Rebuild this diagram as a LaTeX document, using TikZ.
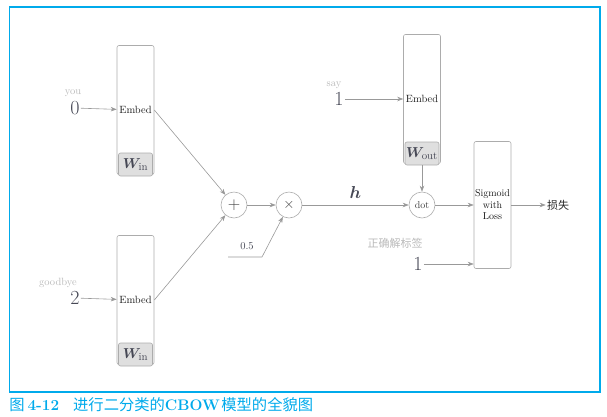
\documentclass[tikz,border=0pt]{standalone}
\usepackage{fontspec}
\usepackage{bm}
\usetikzlibrary{arrows.meta}
\newfontfamily\cjk{Noto Sans CJK SC}
\definecolor{bleu}{RGB}{0,170,235}
\definecolor{encre}{RGB}{70,72,85}

\begin{document}
\begin{tikzpicture}[x=1pt, y=-1pt, >={Stealth[length=6pt, width=4.5pt]}, line width=0.6pt,
    boite/.style={draw=gray!65, rounded corners=2pt, minimum width=37pt, minimum height=129pt, inner sep=1pt, align=center, text=black!90, font=\fontsize{10.5}{11.5}\selectfont},
    poids/.style={draw=gray!65, fill=gray!25, rounded corners=2pt, minimum width=34pt, minimum height=23pt, inner sep=0pt, text=encre, font=\fontsize{15.5}{15.5}\selectfont},
    rond/.style={circle, draw=gray!65, minimum size=26pt, inner sep=0pt, text=black!75, font=\fontsize{10}{10}\selectfont},
    fleche/.style={->, gray!80},
    chiffre/.style={inner sep=1pt, text=encre, font=\fontsize{20}{20}\selectfont},
    mot/.style={inner sep=0pt, text=gray!55, font=\fontsize{10.5}{10.5}\selectfont}]
    % Cadre et légende
    \useasboundingbox (0,0) rectangle (607,416);
    \draw[bleu, line width=1.6pt] (9.5,392) -- (9.5,7) -- (600,7) -- (600,392) -- cycle;
    \node[anchor=west, inner sep=0pt, text=bleu, font=\fontsize{15.3}{15.3}\selectfont] (legende) at (9,405)
        {{\cjk 图}\hspace{3pt}\textbf{4-12}\hspace{14pt}{\cjk 进行二分类的}\textbf{CBOW}\hspace{1.5pt}{\cjk 模型的全貌图}};

    % Couches Embed d'entrée
    \node[boite] (emb1) at (135.5,110) {Embed};
    \node[poids, anchor=south] (win1) at ([yshift=-1.5pt]emb1.south) {$\bm{W}_{\mathrm{in}}$};
    \node[boite] (emb2) at (135.5,300) {Embed};
    \node[poids, anchor=south] (win2) at ([yshift=-1.5pt]emb2.south) {$\bm{W}_{\mathrm{in}}$};

    % Mots du contexte
    \node[chiffre] (x0) at (75,108) {0};
    \node[mot] (you) at (73,93) {you};
    \node[chiffre] (x2) at (75,298) {2};
    \node[mot] (goodbye) at (58,283) {goodbye};
    \draw[fleche] (x0) -- (emb1);
    \draw[fleche] (x2) -- (emb2);

    % Somme puis moyenne
    \node[rond] (plus) at (234,205) {\fontsize{16}{16}\selectfont$+$};
    \node[rond] (fois) at (289,205) {\fontsize{15}{15}\selectfont$\times$};
    \draw[fleche] (emb1.east) -- (plus);
    \draw[fleche] (emb2.east) -- (plus);
    \draw[fleche] (plus) -- (fois);
    \coordinate (c05) at (228,257);
    \coordinate (coin) at (262,257);
    \node[inner sep=0pt, text=encre, font=\fontsize{10.5}{10.5}\selectfont] (demi) at (247,246) {0.5};
    \draw[fleche] (c05) -- (coin) -- (fois);

    % Couche Embed de sortie
    \node[boite] (emb3) at (422,99) {Embed};
    \node[poids, anchor=south] (wout) at ([yshift=-1.5pt]emb3.south) {$\bm{W}_{\mathrm{out}}$};
    \node[chiffre] (x1) at (339,99) {1};
    \node[mot] (say) at (334,85) {say};
    \draw[fleche] (x1) -- (emb3);

    % Produit scalaire
    \node[rond] (dot) at (422,205) {dot};
    \draw[fleche] (fois) -- (dot) node[midway, above=3pt, text=encre, font=\fontsize{19}{19}\selectfont] {$\bm{h}$};
    \draw[fleche] (wout) -- (dot);

    % Sigmoid with Loss
    \node[boite, minimum height=127pt, font=\fontsize{10}{11.5}\selectfont] (sig) at (492.5,205) {Sigmoid\\with\\Loss};
    \node[chiffre] (etiq) at (418,264) {1};
    \node[mot, font=\fontsize{11}{11}\selectfont\cjk] (bonne) at (395,243) {正确解标签};
    \node[inner sep=1pt, text=black!85, font=\fontsize{11}{11}\selectfont\cjk] (perte) at (558,205) {损失};
    \draw[fleche] (dot) -- (sig);
    \draw[fleche] (etiq.east) -- (etiq.east -| sig.west);
    \draw[fleche] (sig) -- (perte);
\end{tikzpicture}
\end{document}
